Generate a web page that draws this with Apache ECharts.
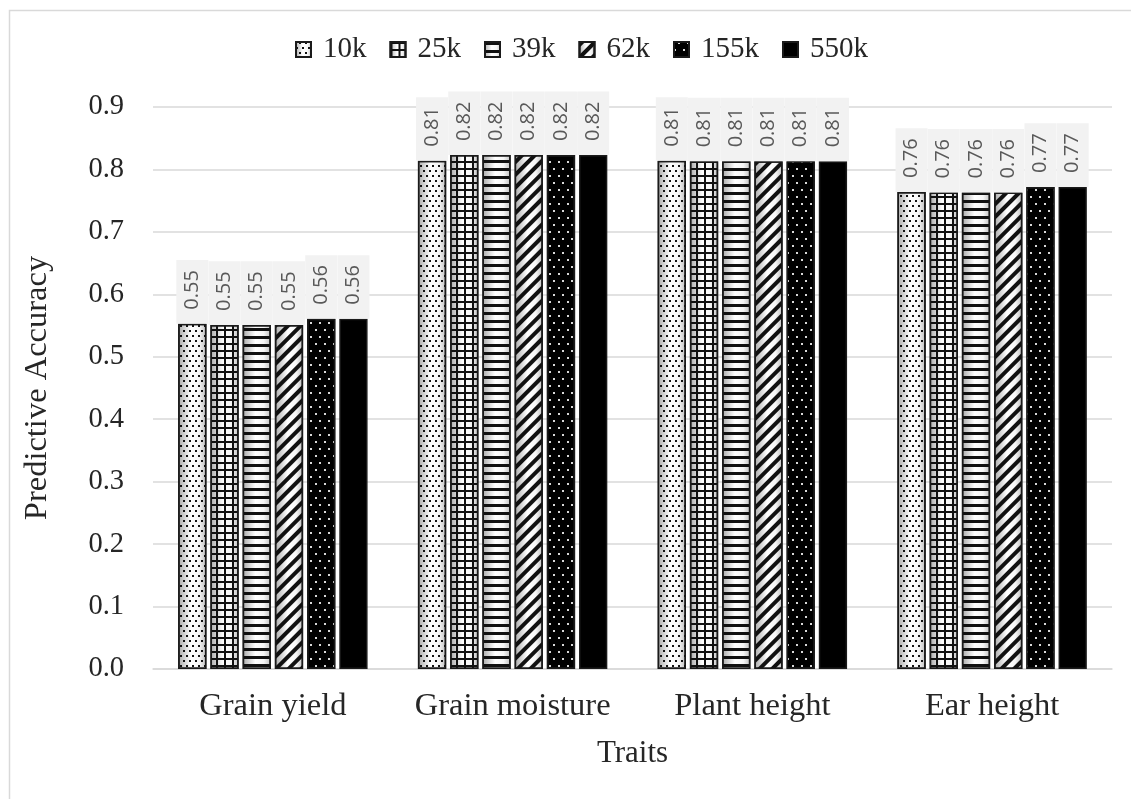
<!DOCTYPE html>
<html><head><meta charset="utf-8">
<script src="https://cdn.jsdelivr.net/npm/echarts@6/dist/echarts.min.js"></script>
<style>html,body{margin:0;padding:0;background:#fff}#c{width:1131px;height:799px}</style>
</head><body><div id="c"></div>
<script>
const categories = ['Grain yield', 'Grain moisture', 'Plant height', 'Ear height'];
const seriesNames = ['10k', '25k', '39k', '62k', '155k', '550k'];
const v10k  = [0.553, 0.814, 0.814, 0.764];
const v25k  = [0.551, 0.823, 0.813, 0.763];
const v39k  = [0.551, 0.823, 0.813, 0.763];
const v62k  = [0.551, 0.823, 0.813, 0.763];
const v155k = [0.561, 0.823, 0.813, 0.772];
const v550k = [0.561, 0.823, 0.813, 0.772];
const labels10k  = ['0.55', '0.81', '0.81', '0.76'];
const labels25k  = ['0.55', '0.82', '0.81', '0.76'];
const labels39k  = ['0.55', '0.82', '0.81', '0.76'];
const labels62k  = ['0.55', '0.82', '0.81', '0.76'];
const labels155k = ['0.56', '0.82', '0.81', '0.77'];
const labels550k = ['0.56', '0.82', '0.81', '0.77'];
const yTicks = ['0.0','0.1','0.2','0.3','0.4','0.5','0.6','0.7','0.8','0.9'];

const values = [v10k, v25k, v39k, v62k, v155k, v550k];
const labelSets = [labels10k, labels25k, labels39k, labels62k, labels155k, labels550k];

const lightGrad = {type:'linear', x:0, y:0, x2:1, y2:0, colorStops:[
  {offset:0, color:'#a8a8a8'},{offset:0.45, color:'#ffffff'},{offset:0.75, color:'#f6f6f6'},{offset:1, color:'#bdbdbd'}]};

const styles = [
  {color: lightGrad, decal:{symbol:'rect', color:'#111', dashArrayX:[[1.6,3.4],[0,2.5,1.6,0.9]], dashArrayY:[1.6,2.6]}},
  {color: lightGrad, decal:{symbol:'rect', color:'#111', dashArrayX:[[1,0],[2,6]], dashArrayY:[2,0,5,0]}},
  {color: lightGrad, decal:{symbol:'rect', color:'#111', dashArrayX:[[1,0]], dashArrayY:[2.2,4.5]}},
  {color: lightGrad, decal:{symbol:'rect', color:'#111', dashArrayX:[[1,0]], dashArrayY:[4,5], rotation:-Math.PI/4}},
  {color: '#000', decal:{symbol:'rect', color:'#d8d8d8', dashArrayX:[[1.5,6.5],[0,4,1.5,2.5]], dashArrayY:[1.5,5]}},
  {color: '#000'}
];

const serif = 'Liberation Serif, Times New Roman, serif';

const series = seriesNames.map((name, i) => ({
  name: name,
  type: 'bar',
  barGap: '14%',
  barCategoryGap: '21%',
  data: values[i],
  itemStyle: Object.assign({borderColor:'#1a1a1a', borderWidth:1.5}, styles[i]),
  label: {
    show: true,
    position: 'top',
    rotate: 90,
    align: 'left',
    verticalAlign: 'middle',
    distance: 0,
    formatter: p => labelSets[i][p.dataIndex],
    fontFamily: 'Open Sans, Noto Sans, sans-serif',
    fontSize: 20,
    lineHeight: 20,
    color: '#595959',
    backgroundColor: '#f2f2f2',
    padding: [6, 10, 6, 14]
  }
}));

const chart = echarts.init(document.getElementById('c'), null, {renderer:'canvas'});
chart.setOption({
  animation: false,
  backgroundColor: '#fff',
  graphic: [{type:'rect', left:7, top:8, shape:{x:0, y:0, width:1135, height:800}, style:{fill:'none', stroke:'#d9d9d9', lineWidth:1.5}, silent:true}],
  legend: {
    top: 30,
    left: 290,
    icon: 'rect',
    itemWidth: 15,
    itemHeight: 15,
    itemGap: 23,
    textStyle: {fontFamily: serif, fontSize: 29, color: '#262626', padding: [0, 0, 0, 7]},
    data: seriesNames
  },
  grid: {left: 153, right: 19, top: 107, bottom: 130, containLabel: false},
  xAxis: {
    type: 'category',
    data: categories,
    name: 'Traits',
    nameLocation: 'middle',
    nameGap: 69,
    nameMoveOverlap: false,
    nameTextStyle: {fontFamily: serif, fontSize: 31, color: '#262626'},
    axisLine: {show: true, lineStyle: {color: '#d9d9d9', width: 1.5}},
    axisTick: {show: false},
    axisLabel: {fontFamily: serif, fontSize: 32.5, color: '#262626', margin: 21, interval: 0, hideOverlap: false}
  },
  yAxis: {
    type: 'value',
    min: 0, max: 0.9, interval: 0.1,
    name: 'Predictive Accuracy',
    nameLocation: 'middle',
    nameGap: 99,
    nameMoveOverlap: false,
    nameTextStyle: {fontFamily: serif, fontSize: 32.5, color: '#262626'},
    axisLine: {show: false},
    axisTick: {show: false},
    splitLine: {lineStyle: {color: '#d9d9d9', width: 1.5}},
    axisLabel: {fontFamily: serif, fontSize: 28.5, color: '#262626', margin: 29,
      formatter: (v) => yTicks[Math.round(v * 10)]}
  },
  series: series
});
</script></body></html>
